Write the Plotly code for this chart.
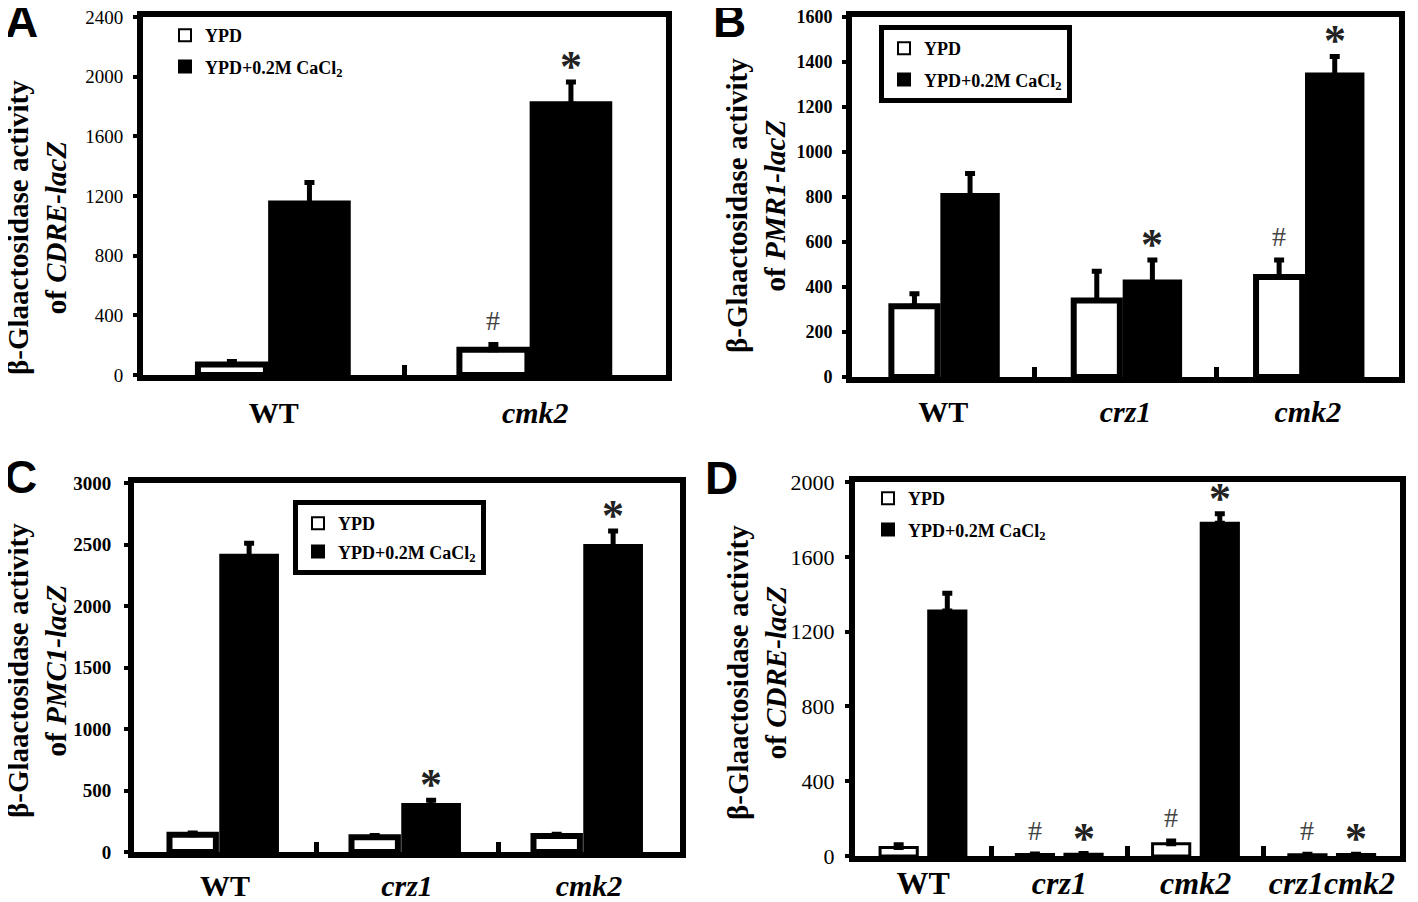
import plotly.graph_objects as go

W, H = 1418, 902
OFF = 8  # browser page margin around the plot div

# ---------------- data ----------------
A_cats = ["WT", "<i>cmk2</i>"]
A_ypd = [70, 170]
A_ypd_err = [20, 35]
A_ca = [1150, 1815]
A_ca_err = [140, 150]
A_marks = [("#", 1, 0), ("*", 1, 1)]

B_cats = ["WT", "<i>crz1</i>", "<i>cmk2</i>"]
B_ypd = [315, 340, 445]
B_ypd_err = [55, 130, 75]
B_ca = [805, 420, 1340]
B_ca_err = [100, 100, 85]
B_marks = [("*", 1, 1), ("#", 2, 0), ("*", 2, 1)]

C_cats = ["WT", "<i>crz1</i>", "<i>cmk2</i>"]
C_ypd = [140, 120, 130]
C_ypd_err = [15, 15, 15]
C_ca = [2400, 375, 2480]
C_ca_err = [110, 45, 130]
C_marks = [("*", 1, 1), ("*", 2, 1)]

D_cats = ["WT", "<i>crz1</i>", "<i>cmk2</i>", "<i>crz1cmk2</i>"]
D_ypd = [45, 8, 65, 7]
D_ypd_err = [15, 3, 15, 2]
D_ca = [1310, 10, 1780, 8]
D_ca_err = [95, 3, 50, 2]
D_marks = [("#", 1, 0), ("*", 1, 1), ("#", 2, 0), ("*", 2, 1), ("#", 3, 0), ("*", 3, 1)]

series_names = ["YPD", "YPD+0.2M CaCl<sub>2</sub>"]
y_titles = ["<i>CDRE-lacZ</i>", "<i>PMR1-lacZ</i>", "<i>PMC1-lacZ</i>", "<i>CDRE-lacZ</i>"]
panel_letters = ["A", "B", "C", "D"]
y_max = [2400, 1600, 3000, 2000]
y_dtick = [400, 200, 500, 400]

# ---------------- layout / style ----------------
SERIF = "Liberation Serif"
SANS = "Liberation Sans"
FW, FH = W - OFF, H - OFF

def px_x(a):
    return (a - OFF) / FW

def px_y(b):
    return 1 - (b - OFF) / FH

panels = [
    dict(cats=A_cats, ypd=A_ypd, ypd_err=A_ypd_err, ca=A_ca, ca_err=A_ca_err, marks=A_marks,
         box=(143, 17, 666, 375), off=(-0.29, 0.26, -0.01, 0.293), bline=6,
         tickfont=dict(family=SERIF, size=19, color="black"), xfs=30, xstand=6, ystand=6,
         title_c=(37, 228), letter_c=(21, 21),
         legend=dict(x=165, y=17, border=0, gap=5, bg="rgba(0,0,0,0)")),
    dict(cats=B_cats, ypd=B_ypd, ypd_err=B_ypd_err, ca=B_ca, ca_err=B_ca_err, marks=B_marks,
         box=(852, 17, 1399, 377), off=(-0.284, 0.253, 0.001, 0.293), bline=6,
         tickfont=dict(family=SERIF, size=18, color="black", weight="bold"), xfs=30, xstand=3, ystand=6,
         title_c=(756, 206), letter_c=(729, 21),
         legend=dict(x=879, y=25, border=5, gap=5, bg="white")),
    dict(cats=C_cats, ypd=C_ypd, ypd_err=C_ypd_err, ca=C_ca, ca_err=C_ca_err, marks=C_marks,
         box=(134, 483, 680, 852), off=(-0.305, 0.255, -0.015, 0.295), bline=6,
         tickfont=dict(family=SERIF, size=19, color="black", weight="bold"), xfs=30, xstand=2, ystand=9,
         title_c=(37, 671), letter_c=(20, 477),
         legend=dict(x=293, y=500, border=5, gap=2, bg="white")),
    dict(cats=D_cats, ypd=D_ypd, ypd_err=D_ypd_err, ca=D_ca, ca_err=D_ca_err, marks=D_marks,
         box=(855, 482, 1400, 856), off=(-0.316, 0.273, 0.041, 0.273), bline=3,
         tickfont=dict(family=SERIF, size=22, color="black"), xfs=32, xstand=-6, ystand=6,
         title_c=(757, 673), letter_c=(721, 478),
         legend=dict(x=868, y=480, border=0, gap=5, bg="rgba(0,0,0,0)")),
]

fig = go.Figure()
annotations = []
layout = {}

for i, p in enumerate(panels):
    k = "" if i == 0 else str(i + 1)
    xa, ya = "x" + k, "y" + k
    leg = "legend" + k
    n = len(p["cats"])
    xs = list(range(n))
    o1, w1, o2, w2 = p["off"]
    fig.add_trace(go.Bar(
        x=xs, y=p["ypd"], offset=o1, width=w1, name=series_names[0],
        marker=dict(color="white", line=dict(color="black", width=p["bline"])),
        error_y=dict(type="data", array=p["ypd_err"], arrayminus=[0] * n, symmetric=False,
                     color="black", thickness=5, width=5),
        xaxis=xa, yaxis=ya, legend=leg, legendgroup=f"p{i}a", showlegend=True))
    fig.add_trace(go.Bar(
        x=xs, y=p["ca"], offset=o2, width=w2, name=series_names[1],
        marker=dict(color="black", line=dict(color="black", width=p["bline"])),
        error_y=dict(type="data", array=p["ca_err"], arrayminus=[0] * n, symmetric=False,
                     color="black", thickness=5, width=5),
        xaxis=xa, yaxis=ya, legend=leg, legendgroup=f"p{i}b", showlegend=True))

    x0, y0, x1, y1 = p["box"]
    layout["xaxis" + k] = dict(
        domain=[px_x(x0), px_x(x1)], anchor=ya, range=[-0.5, n - 0.5],
        tickmode="array", tickvals=xs, ticktext=["<b>" + c + "</b>" for c in p["cats"]],
        ticks="", tickfont=dict(family=SERIF, size=p["xfs"], color="black"),
        ticklabelstandoff=p["xstand"], ticklabeloverflow="allow", automargin=False,
        showline=True, linewidth=6, linecolor="black", mirror=True,
        showgrid=False, zeroline=False, fixedrange=True,
        minor=dict(tickmode="array", tickvals=[j + 0.5 for j in range(n - 1)],
                   ticks="inside", ticklen=10, tickwidth=5, tickcolor="black"),
    )
    layout["yaxis" + k] = dict(
        domain=[px_y(y1), px_y(y0)], anchor=xa, range=[0, y_max[i]],
        tickmode="linear", tick0=0, dtick=y_dtick[i],
        ticks="outside", ticklen=4, tickwidth=4, tickcolor="black",
        tickfont=p["tickfont"], ticklabelstandoff=p["ystand"],
        ticklabeloverflow="allow", automargin=False,
        showline=True, linewidth=6, linecolor="black", mirror=True,
        showgrid=False, zeroline=False, fixedrange=True,
    )
    lg = p["legend"]
    layout[leg] = dict(
        x=px_x(lg["x"]), y=px_y(lg["y"]), xanchor="left", yanchor="top",
        bgcolor=lg["bg"], bordercolor="black", borderwidth=lg["border"],
        font=dict(family=SERIF, size=18, color="black", weight="bold"),
        tracegroupgap=lg["gap"], itemsizing="constant",
    )

    # y-axis title
    tx, ty = p["title_c"]
    annotations.append(dict(
        x=px_x(tx), y=px_y(ty), xref="paper", yref="paper",
        text="β-Glaactosidase activity<br>of " + y_titles[i],
        textangle=-90, showarrow=False, xanchor="center", yanchor="middle",
        font=dict(family=SERIF, size=29, color="black", weight="bold")))
    # panel letter
    lx, ly = p["letter_c"]
    annotations.append(dict(
        x=px_x(lx), y=px_y(ly), xref="paper", yref="paper", text=panel_letters[i],
        showarrow=False, xanchor="center", yanchor="middle",
        font=dict(family=SANS, size=46, color="black", weight="bold")))
    # significance marks
    for sym, ci, si in p["marks"]:
        if si == 0:
            xc = ci + o1 + w1 / 2
            yv = p["ypd"][ci] + p["ypd_err"][ci]
        else:
            xc = ci + o2 + w2 / 2
            yv = p["ca"][ci] + p["ca_err"][ci]
        if sym == "*":
            f = dict(family=SERIF, size=44, color="#222", weight="bold")
            ysh = -11
        else:
            f = dict(family=SERIF, size=28, color="#444")
            ysh = 6
        annotations.append(dict(
            x=xc, y=yv, xref=xa, yref=ya, text=sym, showarrow=False,
            xanchor="center", yanchor="bottom", yshift=ysh, font=f))

fig.update_layout(
    width=FW, height=FH, margin=dict(l=0, r=0, t=0, b=0, autoexpand=False),
    paper_bgcolor="white", plot_bgcolor="white",
    barmode="overlay", showlegend=True,
    annotations=annotations, **layout)

fig.write_html("out.html")
